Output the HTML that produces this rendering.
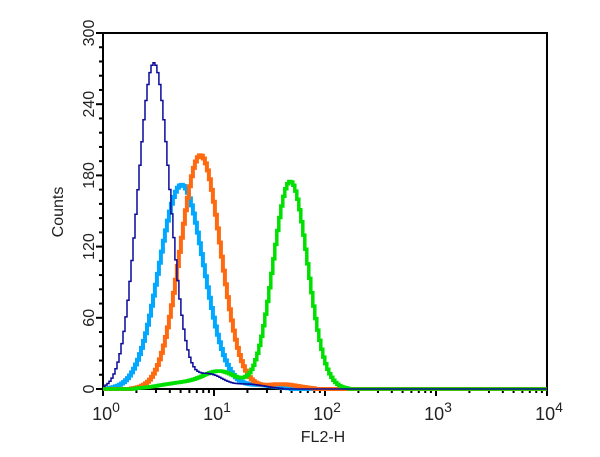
<!DOCTYPE html>
<html><head><style>
body{margin:0;background:#fff;}
svg text{font-family:"Liberation Sans",sans-serif;fill:#222;}
</style></head><body>
<svg id="s" width="600" height="452" xmlns="http://www.w3.org/2000/svg">
<rect x="103" y="33" width="444" height="356" fill="none" stroke="#000" stroke-width="2"/>
<g id="ticks" stroke="#000" stroke-width="2"></g>
<g id="curves" fill="none" stroke-linejoin="miter"></g>
<g font-size="18" text-anchor="middle">
<text x="106" y="420">10<tspan dy="-8" font-size="14">0</tspan></text>
<text x="217" y="420">10<tspan dy="-8" font-size="14">1</tspan></text>
<text x="327" y="420">10<tspan dy="-8" font-size="14">2</tspan></text>
<text x="438" y="420">10<tspan dy="-8" font-size="14">3</tspan></text>
<text x="549" y="420">10<tspan dy="-8" font-size="14">4</tspan></text>
<text x="323" y="442" font-size="16">FL2-H</text>
</g>
<g font-size="16" text-anchor="middle" id="ylab"></g>
<text transform="translate(63,212) rotate(-90)" font-size="16" text-anchor="middle">Counts</text>
</svg>
<script>
const L=103,R=547,T=33,B=389,dec=(R-L)/4;
const X=l=>L+l*dec, Y=c=>B-c*(B-T)/300;
let t='';
for(let i=0;i<=25;i++){const y=Y(i*12);const len=i%5==0?7:4;t+=`<line x1="${L-len}" y1="${y}" x2="${L}" y2="${y}"/>`;}
for(let d=0;d<4;d++)for(let k=1;k<=10;k++){if(d<3&&k==10)continue;const x=X(d+Math.log10(k));const len=k==1||k==10?7:4;t+=`<line x1="${x}" y1="${B}" x2="${x}" y2="${B+len}"/>`;}
document.getElementById('ticks').innerHTML=t;
let yl='';
for(let v=0;v<=300;v+=60){const y=Y(v);yl+=`<text transform="translate(94,${y}) rotate(-90)" y="0">${v}</text>`;}
document.getElementById('ylab').innerHTML=yl;
function g(l,m,s){return Math.exp(-0.5*((l-m)/s)**2);}
const series=[
 {c:'#00a8ff',w:4,f:l=>172*g(l,0.70,0.2)+3*g(l,1.4,0.15)},
 {c:'#ff6a10',w:4,f:l=>197*g(l,0.87,0.18)+4*g(l,1.6,0.15)},
 {c:'#00e000',w:3.5,f:l=>175*g(l,1.68,0.155)+14*g(l,1.05,0.15)+5*g(l,0.7,0.2)},
 {c:'#0a0a9a',w:1.5,f:l=>275*g(l,0.45,0.145)+12*g(l,0.95,0.12)+4*g(l,1.3,0.15)}
];
let h='';
for(const s of series){let p=[];const step=0.018;let prev=null;
 for(let l=0;l<=4.0001;l+=step){let v=s.f(l);if(v<0.5)v=0;let y=Y(v).toFixed(1);const x=X(l).toFixed(1);
  if(prev!==null)p.push(`${x},${prev}`);p.push(`${x},${y}`);prev=y;}
 h+=`<polyline points="${p.join(' ')}" stroke="${s.c}" stroke-width="${s.w}"/>`;}
document.getElementById('curves').innerHTML=h;
</script>
</body></html>
